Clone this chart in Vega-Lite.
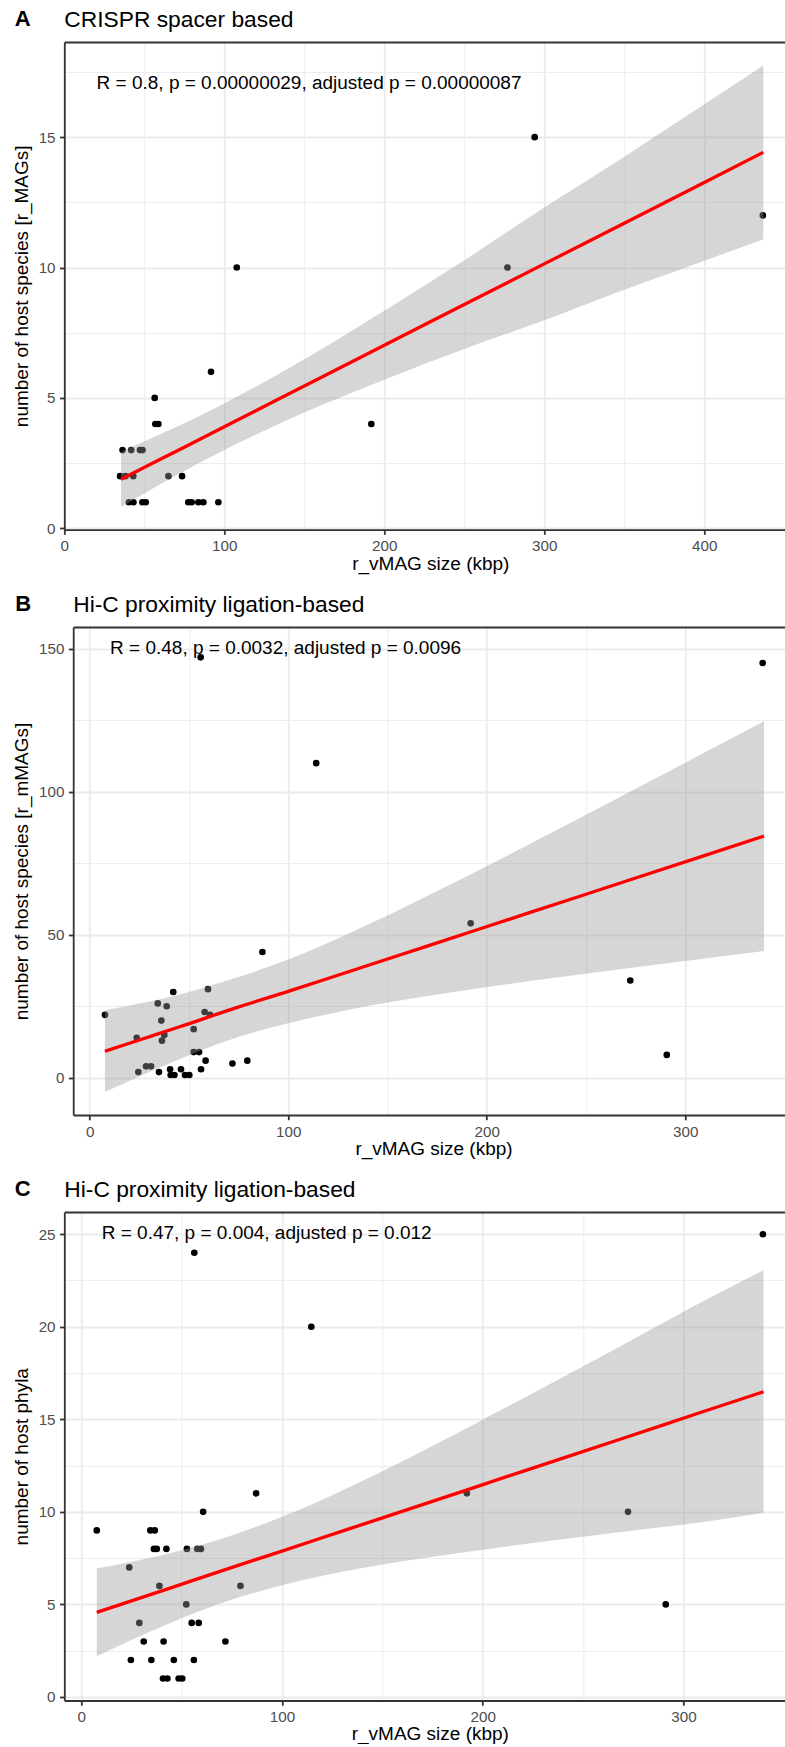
{
  "$schema": "https://vega.github.io/schema/vega-lite/v6.json",
  "background": "white",
  "padding": {"left": 11.3, "top": 8, "right": 0, "bottom": 0},
  "config": {
    "font": "Liberation Sans",
    "view": {"stroke": null},
    "title": {"font": "Liberation Sans", "color": "#000000"},
    "axis": {
      "labelFont": "Liberation Sans", "titleFont": "Liberation Sans",
      "labelFontSize": 15.2, "labelColor": "#4D4D4D",
      "titleFontSize": 19, "titleFontWeight": "normal", "titleColor": "#000000",
      "tickColor": "#333333", "tickWidth": 1.8, "tickSize": 4.75, "labelPadding": 4.5,
      "domainColor": "#333333", "domainWidth": 1.8, "gridColor": "#EBEBEB", "labelFlush": false
    }
  },
  "datasets": {
    "ptsA": [
      {"x": 36.4, "y": 3}, {"x": 41.8, "y": 3}, {"x": 47.3, "y": 3}, {"x": 48.9, "y": 3},
      {"x": 34.9, "y": 2}, {"x": 38.2, "y": 2}, {"x": 43.1, "y": 2}, {"x": 65.1, "y": 2}, {"x": 73.6, "y": 2},
      {"x": 40.4, "y": 1}, {"x": 43.2, "y": 1}, {"x": 48.8, "y": 1}, {"x": 50.9, "y": 1}, {"x": 77.5, "y": 1},
      {"x": 79.6, "y": 1}, {"x": 83.8, "y": 1}, {"x": 86.9, "y": 1}, {"x": 96.3, "y": 1},
      {"x": 56.5, "y": 5}, {"x": 56.9, "y": 4}, {"x": 58.8, "y": 4}, {"x": 191.9, "y": 4},
      {"x": 91.7, "y": 6}, {"x": 107.8, "y": 10}, {"x": 277, "y": 10}, {"x": 294, "y": 15}, {"x": 436.6, "y": 12}
    ],
    "fitA": [
      {"x": 35.5, "fit": 1.88, "lo": 0.82, "hi": 2.94},
      {"x": 60, "fit": 2.65, "lo": 1.69, "hi": 3.61},
      {"x": 75, "fit": 3.11, "lo": 2.2, "hi": 4.03},
      {"x": 97, "fit": 3.8, "lo": 2.91, "hi": 4.69},
      {"x": 120, "fit": 4.52, "lo": 3.6, "hi": 5.44},
      {"x": 150, "fit": 5.46, "lo": 4.44, "hi": 6.48},
      {"x": 200, "fit": 7.02, "lo": 5.7, "hi": 8.34},
      {"x": 250, "fit": 8.58, "lo": 6.88, "hi": 10.28},
      {"x": 300, "fit": 10.14, "lo": 7.98, "hi": 12.3},
      {"x": 350, "fit": 11.7, "lo": 9.15, "hi": 14.25},
      {"x": 400, "fit": 13.26, "lo": 10.26, "hi": 16.26},
      {"x": 436.9, "fit": 14.42, "lo": 11.09, "hi": 17.75}
    ],
    "statA": [{"x": 20.2, "y": 17.07, "label": "R = 0.8, p = 0.00000029, adjusted p = 0.00000087"}],
    "ptsB": [
      {"x": 7.7, "y": 22}, {"x": 23.7, "y": 14}, {"x": 24.5, "y": 2}, {"x": 28.4, "y": 4}, {"x": 30.9, "y": 4},
      {"x": 34.3, "y": 26}, {"x": 38.8, "y": 25}, {"x": 36.1, "y": 20}, {"x": 36.4, "y": 13}, {"x": 37.6, "y": 15},
      {"x": 34.9, "y": 2}, {"x": 42.1, "y": 30}, {"x": 40.5, "y": 3}, {"x": 40.8, "y": 1}, {"x": 42.7, "y": 1},
      {"x": 46, "y": 3}, {"x": 48, "y": 1}, {"x": 50.2, "y": 1}, {"x": 52.4, "y": 17}, {"x": 52.4, "y": 9},
      {"x": 55.1, "y": 9}, {"x": 56.1, "y": 3}, {"x": 58.4, "y": 6}, {"x": 59.6, "y": 31}, {"x": 57.9, "y": 23},
      {"x": 60.6, "y": 22}, {"x": 71.9, "y": 5}, {"x": 79.4, "y": 6}, {"x": 87, "y": 44}, {"x": 55.9, "y": 147},
      {"x": 114.1, "y": 110}, {"x": 191.9, "y": 54}, {"x": 339, "y": 145}, {"x": 272.3, "y": 34}, {"x": 290.7, "y": 8}
    ],
    "fitB": [
      {"x": 7.7, "fit": 9.3, "lo": -5.0, "hi": 23.6},
      {"x": 25, "fit": 13.22, "lo": 0.5, "hi": 25.94},
      {"x": 45, "fit": 17.75, "lo": 6.42, "hi": 29.08},
      {"x": 74, "fit": 24.54, "lo": 14.05, "hi": 35.03},
      {"x": 100, "fit": 30.2, "lo": 19.05, "hi": 41.35},
      {"x": 130, "fit": 37.0, "lo": 23.71, "hi": 50.29},
      {"x": 170, "fit": 46.06, "lo": 28.56, "hi": 63.56},
      {"x": 220, "fit": 57.39, "lo": 33.64, "hi": 81.14},
      {"x": 270, "fit": 68.71, "lo": 38.23, "hi": 99.19},
      {"x": 310, "fit": 77.77, "lo": 41.75, "hi": 113.79},
      {"x": 339.7, "fit": 84.5, "lo": 44.31, "hi": 124.69}
    ],
    "statB": [{"x": 10.3, "y": 150.1, "label": "R = 0.48, p = 0.0032, adjusted p = 0.0096"}],
    "ptsC": [
      {"x": 7.7, "y": 9}, {"x": 34.4, "y": 9}, {"x": 36.6, "y": 9}, {"x": 36.2, "y": 8}, {"x": 37.6, "y": 8},
      {"x": 42.4, "y": 8}, {"x": 52.6, "y": 8}, {"x": 57.8, "y": 8}, {"x": 59.6, "y": 8}, {"x": 60.7, "y": 10},
      {"x": 87.1, "y": 11}, {"x": 56.3, "y": 24}, {"x": 114.6, "y": 20}, {"x": 192.1, "y": 11}, {"x": 272.4, "y": 10},
      {"x": 339.6, "y": 25}, {"x": 291.2, "y": 5}, {"x": 23.9, "y": 7}, {"x": 38.9, "y": 6}, {"x": 79.3, "y": 6},
      {"x": 52.3, "y": 5}, {"x": 28.9, "y": 4}, {"x": 55, "y": 4}, {"x": 58.5, "y": 4}, {"x": 31.1, "y": 3},
      {"x": 41, "y": 3}, {"x": 71.8, "y": 3}, {"x": 24.7, "y": 2}, {"x": 34.9, "y": 2}, {"x": 46.1, "y": 2},
      {"x": 56.1, "y": 2}, {"x": 40.7, "y": 1}, {"x": 42.9, "y": 1}, {"x": 48.5, "y": 1}, {"x": 50.3, "y": 1}
    ],
    "fitC": [
      {"x": 7.7, "fit": 4.57, "lo": 2.2, "hi": 6.94},
      {"x": 25, "fit": 5.19, "lo": 3.08, "hi": 7.3},
      {"x": 45, "fit": 5.91, "lo": 4.03, "hi": 7.79},
      {"x": 74, "fit": 6.96, "lo": 5.22, "hi": 8.7},
      {"x": 100, "fit": 7.88, "lo": 6.03, "hi": 9.73},
      {"x": 130, "fit": 8.96, "lo": 6.76, "hi": 11.16},
      {"x": 170, "fit": 10.39, "lo": 7.49, "hi": 13.29},
      {"x": 220, "fit": 12.19, "lo": 8.25, "hi": 16.13},
      {"x": 270, "fit": 13.98, "lo": 8.93, "hi": 19.03},
      {"x": 310, "fit": 15.42, "lo": 9.45, "hi": 21.39},
      {"x": 339.9, "fit": 16.49, "lo": 9.95, "hi": 23.05}
    ],
    "statC": [{"x": 10.2, "y": 25.07, "label": "R = 0.47, p = 0.004, adjusted p = 0.012"}]
  },
  "spacing": 19,
  "vconcat": [
    {
      "title": {"text": "A", "anchor": "start", "frame": "bounds", "fontSize": 22, "fontWeight": "bold", "baseline": "top", "offset": -22, "dx": 2.7},
      "vconcat": [
        {
          "title": {"text": "CRISPR spacer based", "anchor": "start", "frame": "group", "fontSize": 22.8, "fontWeight": "normal", "baseline": "top", "offset": 10},
          "width": 721.4, "height": 487.6,
          "layer": [
            {
              "data": {"name": "ptsA"},
              "mark": {"type": "circle", "size": 44, "color": "#000000", "opacity": 1},
              "encoding": {
                "x": {"field": "x", "type": "quantitative", "title": "r_vMAG size (kbp)",
                  "scale": {"domain": [0, 450.9], "nice": false, "zero": false},
                  "axis": {"values": [0, 50, 100, 150, 200, 250, 300, 350, 400],
                    "labelExpr": "datum.value % 100 === 0 ? datum.label : ''",
                    "gridWidth": {"condition": {"test": "datum.value % 100 === 0", "value": 1.8}, "value": 0.9},
                    "tickOpacity": {"condition": {"test": "datum.value % 100 === 0", "value": 1}, "value": 0},
                    "titlePadding": 0, "titleX": 366}},
                "y": {"field": "y", "type": "quantitative", "title": "number of host species [r_MAGs]",
                  "scale": {"domain": [-0.05, 18.65], "nice": false, "zero": false},
                  "axis": {"values": [0, 2.5, 5, 7.5, 10, 12.5, 15, 17.5, 18.65],
                    "labelExpr": "datum.value % 5 === 0 ? datum.label : ''",
                    "gridColor": {"condition": {"test": "datum.value > 18.6", "value": "#333333"}, "value": "#EBEBEB"},
                    "gridWidth": {"condition": {"test": "datum.value % 5 === 0 || datum.value > 18.6", "value": 1.8}, "value": 0.9},
                    "tickOpacity": {"condition": {"test": "datum.value % 5 === 0", "value": 1}, "value": 0},
                    "titlePadding": 7}}
              }
            },
            {
              "data": {"name": "fitA"},
              "mark": {"type": "area", "color": "#999999", "opacity": 0.4, "interpolate": "monotone"},
              "encoding": {
                "x": {"field": "x", "type": "quantitative", "title": "r_vMAG size (kbp)"},
                "y": {"field": "lo", "type": "quantitative", "title": "number of host species [r_MAGs]"},
                "y2": {"field": "hi"}
              }
            },
            {
              "data": {"name": "fitA"},
              "mark": {"type": "line", "color": "#FF0000", "strokeWidth": 3.3, "interpolate": "monotone"},
              "encoding": {
                "x": {"field": "x", "type": "quantitative", "title": "r_vMAG size (kbp)"},
                "y": {"field": "fit", "type": "quantitative", "title": "number of host species [r_MAGs]"}
              }
            },
            {
              "data": {"name": "statA"},
              "mark": {"type": "text", "align": "left", "baseline": "middle", "fontSize": 19, "color": "#000000", "font": "Liberation Sans"},
              "encoding": {
                "x": {"field": "x", "type": "quantitative", "title": "r_vMAG size (kbp)"},
                "y": {"field": "y", "type": "quantitative", "title": "number of host species [r_MAGs]"},
                "text": {"field": "label"}
              }
            }
          ]
        }
      ]
    },
    {
      "title": {"text": "B", "anchor": "start", "frame": "bounds", "fontSize": 22, "fontWeight": "bold", "baseline": "top", "offset": -22, "dx": 2.7},
      "vconcat": [
        {
          "title": {"text": "Hi-C proximity ligation-based", "anchor": "start", "frame": "group", "fontSize": 22.8, "fontWeight": "normal", "baseline": "top", "offset": 10, "dx": 8.9},
          "width": 721.4, "height": 488,
          "layer": [
            {
              "data": {"name": "ptsB"},
              "mark": {"type": "circle", "size": 44, "color": "#000000", "opacity": 1},
              "encoding": {
                "x": {"field": "x", "type": "quantitative", "title": "r_vMAG size (kbp)",
                  "scale": {"domain": [-8.3, 350.6], "range": [8.9, 721.4], "nice": false, "zero": false},
                  "axis": {"values": [0, 50, 100, 150, 200, 250, 300],
                    "labelExpr": "datum.value % 100 === 0 ? datum.label : ''",
                    "gridWidth": {"condition": {"test": "datum.value % 100 === 0", "value": 1.8}, "value": 0.9},
                    "tickOpacity": {"condition": {"test": "datum.value % 100 === 0", "value": 1}, "value": 0},
                    "titlePadding": 0, "titleX": 369.2}},
                "y": {"field": "y", "type": "quantitative", "title": "number of host species [r_mMAGs]",
                  "scale": {"domain": [-13, 157.6], "nice": false, "zero": false},
                  "axis": {"values": [0, 25, 50, 75, 100, 125, 150, 157.6],
                    "labelExpr": "datum.value % 50 === 0 ? datum.label : ''",
                    "gridColor": {"condition": {"test": "datum.value > 157", "value": "#333333"}, "value": "#EBEBEB"},
                    "gridWidth": {"condition": {"test": "datum.value % 50 === 0 || datum.value > 157", "value": 1.8}, "value": 0.9},
                    "tickOpacity": {"condition": {"test": "datum.value % 50 === 0", "value": 1}, "value": 0},
                    "titlePadding": 7, "offset": -8.9}}
              }
            },
            {
              "data": {"name": "fitB"},
              "mark": {"type": "area", "color": "#999999", "opacity": 0.4, "interpolate": "monotone"},
              "encoding": {
                "x": {"field": "x", "type": "quantitative", "title": "r_vMAG size (kbp)"},
                "y": {"field": "lo", "type": "quantitative", "title": "number of host species [r_mMAGs]"},
                "y2": {"field": "hi"}
              }
            },
            {
              "data": {"name": "fitB"},
              "mark": {"type": "line", "color": "#FF0000", "strokeWidth": 3.3, "interpolate": "monotone"},
              "encoding": {
                "x": {"field": "x", "type": "quantitative", "title": "r_vMAG size (kbp)"},
                "y": {"field": "fit", "type": "quantitative", "title": "number of host species [r_mMAGs]"}
              }
            },
            {
              "data": {"name": "statB"},
              "mark": {"type": "text", "align": "left", "baseline": "middle", "fontSize": 19, "color": "#000000", "font": "Liberation Sans"},
              "encoding": {
                "x": {"field": "x", "type": "quantitative", "title": "r_vMAG size (kbp)"},
                "y": {"field": "y", "type": "quantitative", "title": "number of host species [r_mMAGs]"},
                "text": {"field": "label"}
              }
            }
          ]
        }
      ]
    },
    {
      "title": {"text": "C", "anchor": "start", "frame": "bounds", "fontSize": 22, "fontWeight": "bold", "baseline": "top", "offset": -22, "dx": 2.7},
      "vconcat": [
        {
          "title": {"text": "Hi-C proximity ligation-based", "anchor": "start", "frame": "group", "fontSize": 22.8, "fontWeight": "normal", "baseline": "top", "offset": 10},
          "width": 721.5, "height": 488.5,
          "layer": [
            {
              "data": {"name": "ptsC"},
              "mark": {"type": "circle", "size": 44, "color": "#000000", "opacity": 1},
              "encoding": {
                "x": {"field": "x", "type": "quantitative", "title": "r_vMAG size (kbp)",
                  "scale": {"domain": [-8.47, 351.0], "nice": false, "zero": false},
                  "axis": {"values": [0, 50, 100, 150, 200, 250, 300],
                    "labelExpr": "datum.value % 100 === 0 ? datum.label : ''",
                    "gridWidth": {"condition": {"test": "datum.value % 100 === 0", "value": 1.8}, "value": 0.9},
                    "tickOpacity": {"condition": {"test": "datum.value % 100 === 0", "value": 1}, "value": 0},
                    "titlePadding": 0, "titleX": 365.5}},
                "y": {"field": "y", "type": "quantitative", "title": "number of host phyla",
                  "scale": {"domain": [-0.19, 26.2], "nice": false, "zero": false},
                  "axis": {"values": [0, 2.5, 5, 7.5, 10, 12.5, 15, 17.5, 20, 22.5, 25, 26.2],
                    "labelExpr": "datum.value % 5 === 0 ? datum.label : ''",
                    "gridColor": {"condition": {"test": "datum.value > 26.1", "value": "#333333"}, "value": "#EBEBEB"},
                    "gridWidth": {"condition": {"test": "datum.value % 5 === 0 || datum.value > 26.1", "value": 1.8}, "value": 0.9},
                    "tickOpacity": {"condition": {"test": "datum.value % 5 === 0", "value": 1}, "value": 0},
                    "titlePadding": 7}}
              }
            },
            {
              "data": {"name": "fitC"},
              "mark": {"type": "area", "color": "#999999", "opacity": 0.4, "interpolate": "monotone"},
              "encoding": {
                "x": {"field": "x", "type": "quantitative", "title": "r_vMAG size (kbp)"},
                "y": {"field": "lo", "type": "quantitative", "title": "number of host phyla"},
                "y2": {"field": "hi"}
              }
            },
            {
              "data": {"name": "fitC"},
              "mark": {"type": "line", "color": "#FF0000", "strokeWidth": 3.3, "interpolate": "monotone"},
              "encoding": {
                "x": {"field": "x", "type": "quantitative", "title": "r_vMAG size (kbp)"},
                "y": {"field": "fit", "type": "quantitative", "title": "number of host phyla"}
              }
            },
            {
              "data": {"name": "statC"},
              "mark": {"type": "text", "align": "left", "baseline": "middle", "fontSize": 19, "color": "#000000", "font": "Liberation Sans"},
              "encoding": {
                "x": {"field": "x", "type": "quantitative", "title": "r_vMAG size (kbp)"},
                "y": {"field": "y", "type": "quantitative", "title": "number of host phyla"},
                "text": {"field": "label"}
              }
            }
          ]
        }
      ]
    }
  ]
}
